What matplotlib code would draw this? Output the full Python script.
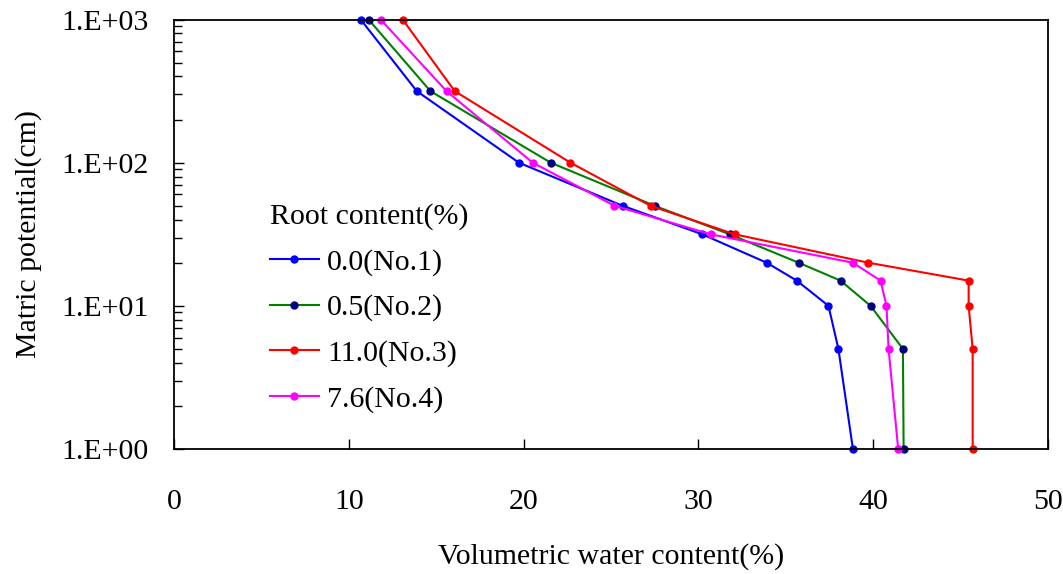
import numpy as np
import matplotlib
matplotlib.use('Agg')
import matplotlib.pyplot as plt
from matplotlib.ticker import FixedLocator, FuncFormatter, LogLocator, NullFormatter

plt.rcParams['font.family'] = 'Liberation Serif'
plt.rcParams['font.size'] = 21.5

# matric potential (cm), same steps for every sample
potential = [1, 5, 10, 15, 20, 31.6, 50, 100, 316, 1000]

# volumetric water content (%) for each sample
wc_no1 = [38.84, 38.01, 37.44, 35.63, 33.91, 30.22, 25.66, 19.73, 13.89, 10.68]
wc_no2 = [41.74, 41.70, 39.85, 38.13, 35.74, 31.79, 27.49, 21.55, 14.67, 11.13]
wc_no3 = [45.69, 45.69, 45.46, 45.46, 39.73, 32.07, 27.26, 22.68, 16.06, 13.08]
wc_no4 = [41.43, 40.88, 40.76, 40.42, 38.84, 30.70, 25.20, 20.52, 15.59, 11.82]

labels = ['0.0(No.1)', '0.5(No.2)', '11.0(No.3)', '7.6(No.4)']
line_colors = ['#0000FF', '#008000', '#FF0000', '#FF00FF']
marker_colors = ['#0000FF', '#000080', '#FF0000', '#FF00FF']

fig = plt.figure(figsize=(10.63, 5.74), dpi=100)
ax = fig.add_axes([174 / 1063, 125 / 574, 874 / 1063, 429.5 / 574])

for wc, lab, lc, mc in zip([wc_no1, wc_no2, wc_no3, wc_no4], labels, line_colors, marker_colors):
    ax.plot(wc, potential, color=lc, lw=1.5, marker='o', ms=5,
            markerfacecolor=mc, markeredgecolor=mc, label=lab, clip_on=False)

ax.set_yscale('log')
ax.set_xlim(0, 50)
ax.set_ylim(1, 1000)

ax.xaxis.set_major_locator(FixedLocator([0, 10, 20, 30, 40, 50]))
ax.yaxis.set_major_locator(FixedLocator([1, 10, 100, 1000]))
ax.yaxis.set_major_formatter(FuncFormatter(lambda v, p: '1.E+%02d' % int(round(np.log10(v)))))
ax.yaxis.set_minor_locator(LogLocator(base=10, subs=np.arange(2, 10)))
ax.yaxis.set_minor_formatter(NullFormatter())

ax.tick_params(axis='x', direction='in', length=7, width=1, pad=29)
ax.tick_params(axis='y', which='major', direction='in', length=7, width=1, pad=18)
ax.tick_params(axis='y', which='minor', direction='in', length=5.5, width=1)

for s in ax.spines.values():
    s.set_linewidth(1.3)
    s.set_color('black')

ax.set_xlabel('Volumetric water content(%)', labelpad=20)
ax.set_ylabel('Matric potential(cm)', labelpad=14)

leg = ax.legend(loc='upper left', bbox_to_anchor=(0.11, 0.573), frameon=False,
                title='Root content(%)', title_fontsize=21.5, fontsize=21.5,
                handlelength=1.63, handletextpad=0.27, labelspacing=0.62,
                borderpad=0, borderaxespad=0, alignment='left')

fig.savefig('out.png', dpi=100)
